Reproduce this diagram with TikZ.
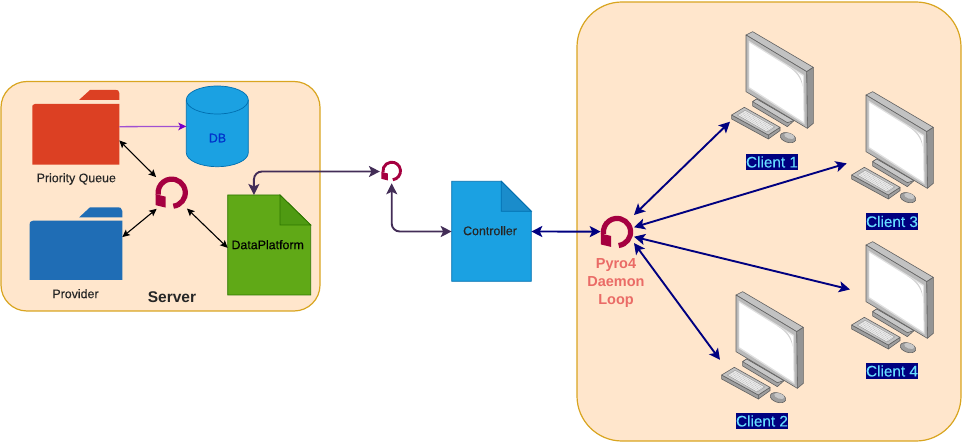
\documentclass[tikz,border=0pt]{standalone}
\usepackage{fontspec}
\setmainfont{Liberation Sans}
\newfontfamily\medfont[FakeBold=0.3]{Liberation Sans}
\usetikzlibrary{arrows.meta}
\definecolor{panelfill}{HTML}{FFE6CC}
\definecolor{panelline}{HTML}{D9A520}
\definecolor{loopred}{HTML}{A50040}
\definecolor{navyline}{HTML}{000080}
\definecolor{plumline}{HTML}{432D57}
\definecolor{bluefill}{HTML}{1BA1E2}
\definecolor{blueline}{HTML}{006EAF}
\definecolor{bluefold}{HTML}{1A8CCB}
\definecolor{greenfill}{HTML}{60A917}
\definecolor{greenline}{HTML}{2D7600}
\definecolor{greenfold}{HTML}{4F9A12}
\definecolor{qred}{HTML}{DC4023}
\definecolor{qblue}{HTML}{1F6DB5}
\definecolor{clienttext}{HTML}{66DDFF}
\tikzset{
  panel/.style={draw=panelline,fill=panelfill,line width=1.2pt},
  anchorbox/.style={draw=none,inner sep=0pt,outer sep=0pt,minimum width=#1},
  ring/.style={circle,draw=none,inner sep=0pt,outer sep=0pt,minimum size=#1},
  cap9/.style={font=\medfont\fontsize{12.4}{14}\selectfont,text=black!85},
  clientlabel/.style={fill=navyline,text=clienttext,font=\medfont\fontsize{15.3}{17}\selectfont,inner xsep=0.3pt,inner ysep=0pt,minimum height=16.5pt},
  blackarrow/.style={{Stealth[length=7.5pt,width=7pt,inset=1.5pt]}-{Stealth[length=7.5pt,width=7pt,inset=1.5pt]},black,line width=1.1pt},
  navyarrow/.style={{Stealth[length=11pt,width=11pt,inset=2.5pt]}-{Stealth[length=11pt,width=11pt,inset=2.5pt]},navyline,line width=1.9pt},
  plumarrow/.style={{Stealth[length=11pt,width=11pt,inset=2.5pt]}-{Stealth[length=11pt,width=11pt,inset=2.5pt]},plumline,line width=1.9pt,rounded corners=8pt},
  violetarrow/.style={-{Stealth[length=8pt,width=7.5pt,inset=2pt,color={rgb,255:red,120;green,0;blue,200}]},color={rgb,255:red,160;green,80;blue,210},line width=1.3pt},
  screenedge/.style={draw=black!62,line width=0.6pt,line join=round},
}
% centre x, centre y, arc centre radius, arc thickness
\newcommand\loopicon[4]{%
  \begin{scope}[shift={(#1,#2)}]
    \draw[loopred,line width=#4pt] (83:#3) arc[start angle=83,end angle=-188,radius=#3];
    \pgfmathsetmacro\hs{(#3+#4/2)/16.3}
    \fill[loopred] ({-16.3*\hs},{12.5*\hs}) -- ({-6*\hs},{15*\hs}) -- ({-6*\hs},{4*\hs}) -- ({-16.3*\hs},{1.5*\hs}) -- cycle;
  \end{scope}}
\newcommand\computerpic[2]{%
  \begin{scope}[shift={(#1,#2)},x=0.3333pt,y=-0.3333pt]
    % stand
    \filldraw[screenedge,fill=black!36] (158,245) -- (170,237) -- (282,302) -- (262,320) -- (158,258) -- cycle;
    \filldraw[screenedge,fill=black!22] (158,245) -- (170,237) -- (282,302) -- (262,308) -- cycle;
    % monitor
    \filldraw[screenedge,fill=black!24] (138,45) -- (158,35) -- (340,142) -- (320,155) -- cycle;
    \filldraw[screenedge,fill=black!42] (320,155) -- (340,142) -- (340,310) -- (322,325) -- cycle;
    \filldraw[screenedge,fill=black!27] (138,45) -- (320,155) -- (322,325) -- (138,215) -- cycle;
    \fill[black!12] (146,62) -- (312,165) -- (314,313) -- (146,205) -- cycle;
    \fill[white] (148,68) -- (309,168) -- (311,306) -- (148,201) -- cycle;
    \fill[black!18] (262,138) .. controls (292,152) and (306,170) .. (308,200) .. controls (302,172) and (288,155) .. (262,138) -- cycle;
    % keyboard
    \filldraw[screenedge,fill=black!38] (95,285) -- (205,345) -- (205,357) -- (95,297) -- cycle;
    \filldraw[screenedge,fill=black!38] (205,345) -- (240,322) -- (240,332) -- (205,357) -- cycle;
    \filldraw[screenedge,fill=black!24] (95,285) -- (133,262) -- (240,322) -- (205,345) -- cycle;
    \filldraw[draw=black!45,fill=black!7,line width=0.3pt] (112,285) -- (135,271) -- (224,321) -- (201,336) -- cycle;
    \foreach \s in {0.2,0.4,0.6,0.8}{\draw[black!35,line width=0.35pt,dash pattern=on 0.7pt off 0.7pt] ({112+23*\s},{285-14*\s}) -- ({201+23*\s},{336-15*\s});}
    % mouse
    \filldraw[screenedge,fill=black!38] (264,353) ellipse[x radius=24,y radius=14,rotate=-18];
    \fill[black!22] (268,348) ellipse[x radius=16,y radius=8,rotate=-18];
  \end{scope}}
\begin{document}
\begin{tikzpicture}[x=1pt,y=-1pt]
\useasboundingbox (0,0) rectangle (963,443);
% panels
\draw[panel,rounded corners=26pt] (1,81.5) rectangle (320,311);
\draw[panel,rounded corners=45pt] (577,2) rectangle (961,441);

% folders
\fill[qred] (79,100) -- (90,90) -- (116,90) .. controls (118.3,90) .. (119.3,93) -- (119.3,100) -- cycle;
\fill[qred] (32.3,164.7) -- (32.3,107) .. controls (32.3,105) .. (35,104) -- (119.3,104) -- (119.3,164.7) -- cycle;
\node[anchorbox=87pt,minimum height=60.7pt] (pq) at (75.8,134.35) {};
\node[cap9] (pqtext) at (76.3,179) {Priority Queue};
\fill[qblue] (79,217.5) -- (90,207.3) -- (118,207.3) .. controls (120.5,207.3) .. (122.3,211) -- (122.3,217.5) -- cycle;
\fill[qblue] (29.7,280) -- (29.7,224) .. controls (29.7,222) .. (33,220.7) -- (122.3,220.7) -- (122.3,280) -- cycle;
\node[anchorbox=92.6pt,minimum height=59.3pt] (prov) at (76,250.35) {};
\node[cap9] (provtext) at (75.5,293.7) {Provider};

% database
\filldraw[draw=blueline,fill=bluefill,line width=0.7pt] (186.3,100) -- (186.3,152.7) arc[start angle=180,end angle=360,x radius=31,y radius=-14] -- (248.3,100) arc[start angle=0,end angle=180,x radius=31,y radius=-14] -- cycle;
\draw[blueline,line width=0.7pt] (186.3,100) arc[start angle=180,end angle=360,x radius=31,y radius=-14];
\node[anchorbox=62pt,minimum height=80.8pt] (db) at (217.3,126.4) {};
\node[text={rgb,255:red,0;green,51;blue,204},font=\medfont\fontsize{12.4}{14}\selectfont] (dbtext) at (217.5,138) {DB};

% data platform document
\filldraw[draw=greenline,fill=greenfill,line width=0.8pt] (227.7,195) -- (280,195) -- (310.7,225) -- (310.7,295) -- (227.7,295) -- cycle;
\filldraw[draw=greenline,fill=greenfold,line width=0.8pt] (280,195) -- (310.7,225) -- (280,225) -- cycle;
\node[anchorbox=83pt,minimum height=100pt] (dp) at (269.2,245) {};
\node[cap9,text=black] (dptext) at (267.7,244.7) {DataPlatform};
\node[font=\bfseries\fontsize{15.5}{17}\selectfont,text=black!85] (srv) at (172,297.5) {Server};

% controller document
\filldraw[draw=blueline,fill=bluefill,line width=0.8pt] (451.7,181.3) -- (501.3,181.3) -- (531.3,211.3) -- (531.3,281.3) -- (451.7,281.3) -- cycle;
\filldraw[draw=blueline,fill=bluefold,line width=0.8pt] (501.3,181.3) -- (531.3,211.3) -- (501.3,211.3) -- cycle;
\node[anchorbox=79.6pt,minimum height=100pt] (ctrl) at (491.5,231.5) {};
\node[cap9,text=black!85] (ctrltext) at (490,230.7) {Controller};

% loops
\loopicon{171.7}{192.7}{13.6}{5.2}
\node[ring=44pt] (loopS) at (171.7,192.7) {};
\loopicon{391.7}{171}{8.8}{2.9}
\node[ring=23.5pt] (loopM) at (391.7,171.5) {};
\loopicon{617}{232}{13.6}{5.2}
\node[anchorbox=33.3pt,minimum height=28pt] (pyro) at (617.35,229) {};
\node[font=\bfseries\fontsize{14.5}{18}\selectfont,text={rgb,255:red,234;green,107;blue,102},align=center] (pyrotext) at (616,283) {Pyro4\\[0pt]Daemon\\[0pt]Loop};

% computers
\computerpic{700}{20}
\node[anchorbox=85pt,minimum height=115pt] (c1) at (772.5,88.5) {};
\node[clientlabel] (c1t) at (772,162) {Client 1};
\computerpic{820}{80}
\node[anchorbox=85pt,minimum height=115pt,outer sep=3.3pt] (c3) at (892.5,148.5) {};
\node[clientlabel] (c3t) at (892,221.5) {Client 3};
\computerpic{690}{280}
\node[anchorbox=85pt,minimum height=115pt] (c2) at (762.5,348.5) {};
\node[clientlabel] (c2t) at (762,421) {Client 2};
\computerpic{820}{230}
\node[anchorbox=85pt,minimum height=115pt] (c4) at (892.5,298.5) {};
\node[clientlabel] (c4t) at (892,371) {Client 4};

% connectors
\draw[violetarrow] (pq.10) -- (db.west);
\draw[blackarrow] (pq.-8) -- (loopS.135);
\draw[blackarrow] (prov.16) -- (loopS.227);
\draw[blackarrow] (loopS.-46) -- (dp.184.5);
\draw[plumarrow] (dp.107) |- (loopM.west);
\draw[plumarrow] (loopM.south) |- (ctrl.west);
\draw[navyarrow] (ctrl.east) -- (pyro.189);
\draw[navyarrow] (pyro.north east) -- (c1.218);
\draw[navyarrow] (pyro.6) -- (c3.198.7);
\draw[navyarrow] (pyro.-25) -- (c4.168.7);
\draw[navyarrow] (pyro.south east) -- (c2.195);
\end{tikzpicture}
\end{document}
